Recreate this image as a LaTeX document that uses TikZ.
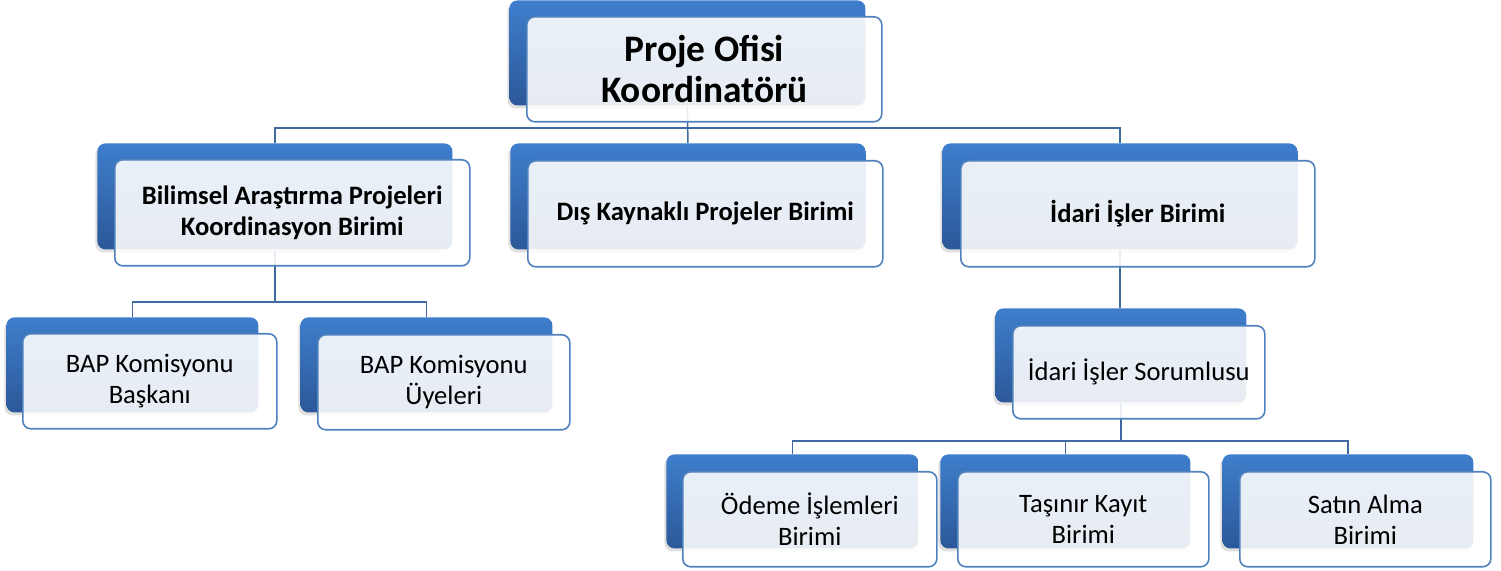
\documentclass[tikz,border=0pt]{standalone}
\usepackage{fontspec}
\setmainfont{Carlito}
\usetikzlibrary{shadows}
\definecolor{backtop}{RGB}{62,126,204}
\definecolor{backbot}{RGB}{44,88,152}
\definecolor{frontborder}{RGB}{79,129,189}
\definecolor{linecol}{RGB}{64,105,160}
\newcommand\backbox[5]{%
  \node[backbox, anchor=north west, minimum width=#4*0.5pt, minimum height=#5*0.5pt] (b#1) at (#2,#3) {};}
\begin{document}
\begin{tikzpicture}[x=0.5pt,y=-0.5pt,
  backbox/.style={rounded corners=4pt, top color=backtop, bottom color=backbot, draw=none, inner sep=0pt,
    drop shadow={shadow xshift=-1pt, shadow yshift=-1.5pt, opacity=0.25}},
  frontbox/.style={rounded corners=4pt, draw=frontborder, line width=0.8pt, fill=white, fill opacity=0.89,
    text opacity=1, inner sep=2pt, align=center, text=black, anchor=north west},
  conn/.style={draw=linecol, line width=0.75pt},
  bigtxt/.style={font=\bfseries\fontsize{18.7}{20.5}\selectfont},
  midtxt/.style={font=\bfseries\fontsize{13.3}{15.5}\selectfont},
  smltxt/.style={font=\fontsize{13.3}{15.5}\selectfont}]
\useasboundingbox (0,0) rectangle (1501,571);
% back boxes
\backbox{Top}{509}{0}{356}{105}
\backbox{BAP}{97}{143}{355}{106}
\backbox{Dis}{510}{143}{355}{106}
\backbox{Idari}{942}{143}{355}{106}
\backbox{Bask}{6}{317}{252}{95}
\backbox{Uye}{300}{317}{252}{95}
\backbox{Sor}{995}{308}{251}{94}
\backbox{Ode}{666}{454}{252}{94}
\backbox{Tas}{940}{454}{250}{94}
\backbox{Sat}{1222}{454}{251}{94}
% connectors
\coordinate (h1) at (0,128);
\coordinate (h2) at (0,302);
\coordinate (h3) at (0,441);
\draw[conn] (bTop.south) -- (bTop.south |- h1) -| (bBAP.north);
\draw[conn] (bTop.south) -- (bDis.north);
\draw[conn] (bTop.south |- h1) -| (bIdari.north);
\draw[conn] (bBAP.south) -- (bBAP.south |- h2) -| (bBask.north);
\draw[conn] (bBAP.south |- h2) -| (bUye.north);
\draw[conn] (bIdari.south) -- (bIdari.south |- bSor.north);
\draw[conn] (bSor.south) -- (bSor.south |- h3) -| (bOde.north);
\draw[conn] (bSor.south |- h3) -| (bSat.north);
\draw[conn] (bSor.south |- h3) -| (bTas.north);
% front boxes
\node[frontbox, bigtxt, minimum width=177.5pt, minimum height=52.5pt] (fTop) at (526,16) {Proje Ofisi\\Koordinatörü};
\node[frontbox, midtxt, minimum width=177.5pt, minimum height=53pt] (fBAP) at (114,159) {Bilimsel Araştırma Projeleri\\Koordinasyon Birimi};
\node[frontbox, midtxt, minimum width=177.5pt, minimum height=53pt] (fDis) at (527,160) {Dış Kaynaklı Projeler Birimi};
\node[frontbox, midtxt, minimum width=177pt, minimum height=53pt] (fIdari) at (960,160) {İdari İşler Birimi};
\node[frontbox, smltxt, minimum width=127pt, minimum height=47.5pt] (fBask) at (22,333) {BAP Komisyonu\\Başkanı};
\node[frontbox, smltxt, minimum width=126pt, minimum height=47.5pt] (fUye) at (317,334) {BAP Komisyonu\\Üyeleri};
\node[frontbox, smltxt, minimum width=126pt, minimum height=46.5pt] (fSor) at (1012,325) {İdari İşler Sorumlusu};
\node[frontbox, smltxt, minimum width=127pt, minimum height=47.5pt] (fOde) at (682,471) {Ödeme İşlemleri\\Birimi};
\node[frontbox, smltxt, minimum width=125.5pt, minimum height=47.5pt] (fTas) at (957,471) {Taşınır Kayıt\\Birimi};
\node[frontbox, smltxt, minimum width=125.5pt, minimum height=47.5pt] (fSat) at (1239,471) {Satın Alma\\Birimi};
\end{tikzpicture}
\end{document}
